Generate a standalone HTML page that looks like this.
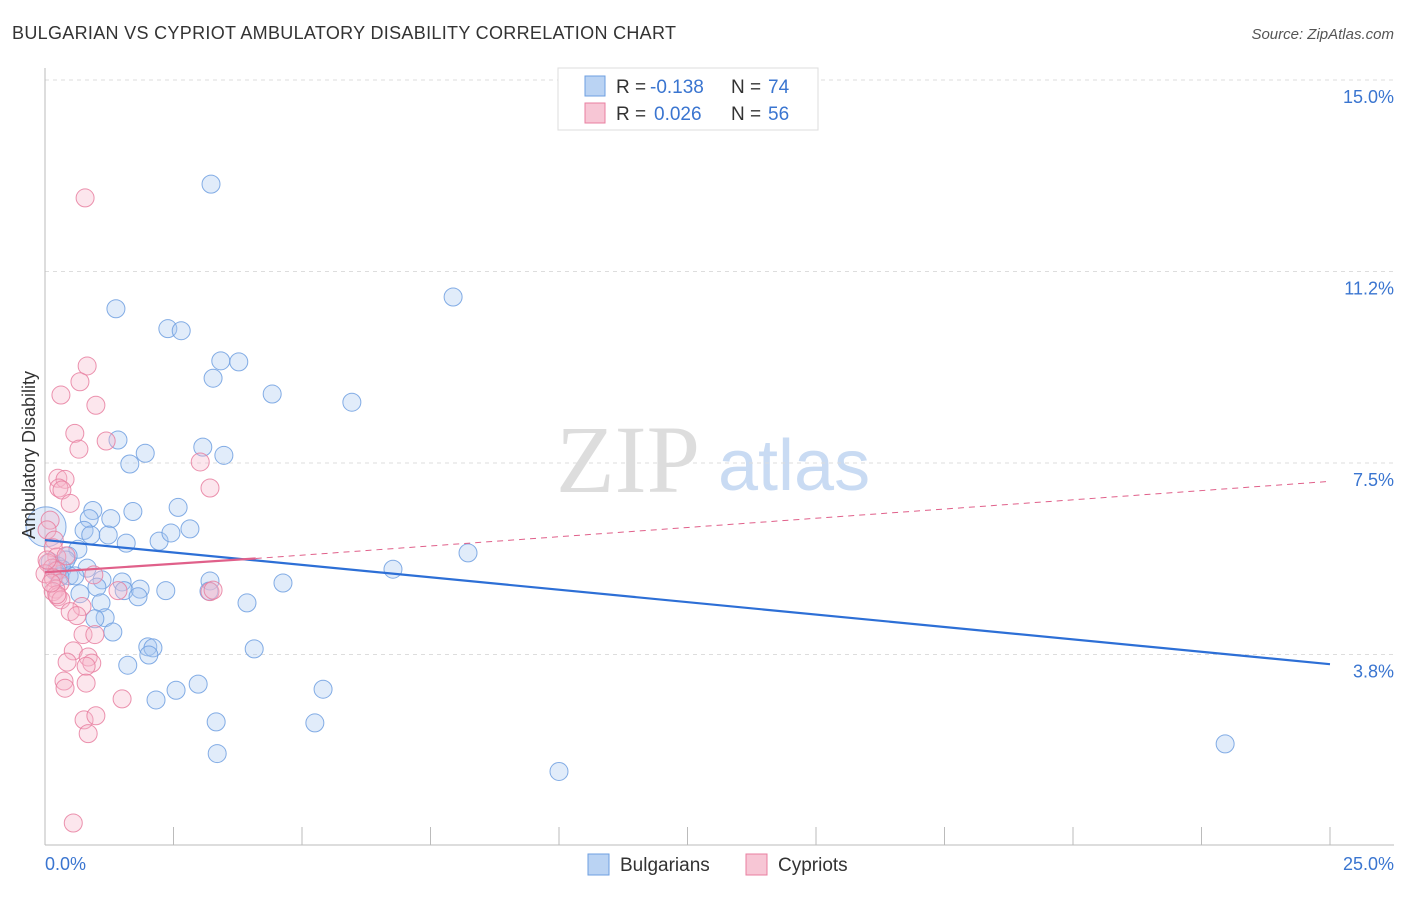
<!DOCTYPE html>
<html><head><meta charset="utf-8"><style>
body{margin:0;background:#fff;font-family:"Liberation Sans",sans-serif}
</style></head><body>
<svg id="chart" width="1406" height="892" xmlns="http://www.w3.org/2000/svg" style="font-family:'Liberation Sans',sans-serif">
<text x="12" y="39" font-size="18" fill="#333" textLength="664">BULGARIAN VS CYPRIOT AMBULATORY DISABILITY CORRELATION CHART</text>
<text x="1394" y="39" font-size="15" fill="#555" font-style="italic" text-anchor="end">Source: ZipAtlas.com</text>
<text x="556" y="492" font-size="96" fill="#ddd" font-family="'Liberation Serif',serif">ZIP</text>
<text x="718" y="490" font-size="72" fill="#c9dbf3">atlas</text>
<g id="grid"></g><g id="axes"></g><g id="pts"></g><g id="lines"></g>
<text transform="translate(35,455) rotate(-90)" font-size="18" fill="#333" text-anchor="middle">Ambulatory Disability</text>
<text x="45" y="870" font-size="18" fill="#3a75d0">0.0%</text>
<text x="1394" y="870" font-size="18" fill="#3a75d0" text-anchor="end">25.0%</text>
<g>
<rect x="558" y="68" width="260" height="62" fill="#fff" stroke="#ddd"/>
<rect x="585" y="76" width="20" height="20" fill="#a9c8f0" stroke="#6e9fe0" fill-opacity="0.8"/>
<rect x="585" y="103" width="20" height="20" fill="#f5b8cb" stroke="#e87fa0" fill-opacity="0.8"/>
<text x="616" y="93" font-size="19" fill="#333">R =</text>
<text x="650" y="93" font-size="19" fill="#3a75d0">-0.138</text>
<text x="731" y="93" font-size="19" fill="#333">N =</text>
<text x="768" y="93" font-size="19" fill="#3a75d0">74</text>
<text x="616" y="120" font-size="19" fill="#333">R =</text>
<text x="654" y="120" font-size="19" fill="#3a75d0">0.026</text>
<text x="731" y="120" font-size="19" fill="#333">N =</text>
<text x="768" y="120" font-size="19" fill="#3a75d0">56</text>
</g>
<g>
<rect x="588" y="854" width="21" height="21" fill="#a9c8f0" stroke="#6e9fe0" fill-opacity="0.8"/>
<text x="620" y="871" font-size="19" fill="#333">Bulgarians</text>
<rect x="746" y="854" width="21" height="21" fill="#f5b8cb" stroke="#e87fa0" fill-opacity="0.8"/>
<text x="778" y="871" font-size="19" fill="#333">Cypriots</text>
</g>
</svg>
<script>
const yTicks=[3.75,7.5,11.25,15];
const yTickLabels=["3.8%","7.5%","11.2%","15.0%"];
const blueX=[3.23,1.38,2.39,2.65,7.94,3.42,3.77,3.27,4.42,5.97,1.42,3.07,1.95,3.48,1.65,0.93,0.86,1.28,1.71,2.59,2.82,0.76,0.89,1.23,1.58,2.22,2.45,0.64,0.45,0.41,0.1,0.25,0.33,0.19,0.82,0.47,0.58,1.11,0.29,1.5,3.21,4.63,6.77,8.23,1.01,1.54,1.85,2.35,1.81,0.68,3.19,1.09,3.93,1.17,0.97,1.32,2.0,2.1,2.02,4.07,1.61,2.55,2.16,2.98,5.41,3.33,5.25,3.35,10.0,22.96,0.02];
const blueY=[12.96,10.52,10.13,10.09,10.75,9.5,9.48,9.16,8.85,8.69,7.95,7.81,7.69,7.65,7.48,6.57,6.41,6.41,6.55,6.63,6.21,6.18,6.09,6.09,5.93,5.97,6.13,5.81,5.68,5.6,5.56,5.48,5.42,5.39,5.44,5.29,5.29,5.21,5.27,5.17,5.19,5.15,5.42,5.74,5.07,5.0,5.03,5.0,4.88,4.94,4.99,4.76,4.76,4.47,4.45,4.19,3.9,3.88,3.74,3.86,3.54,3.05,2.86,3.17,3.07,2.43,2.41,1.81,1.46,2.0,6.25];
const pinkX=[0.78,0.82,0.68,0.31,0.99,0.58,0.66,1.19,3.02,0.25,0.39,0.27,0.33,3.21,0.49,0.1,0.04,0.18,0.16,0.23,0.41,0.06,0.14,0.23,0.0,0.16,0.95,0.29,0.21,0.16,1.42,3.21,3.27,0.25,0.31,0.72,0.49,0.62,0.74,0.97,0.55,0.84,0.43,0.91,0.8,0.37,0.39,0.8,1.5,0.76,0.99,0.84,0.55,0.23,0.12,0.04];
const pinkY=[12.69,9.4,9.09,8.83,8.63,8.08,7.77,7.93,7.52,7.2,7.18,7.01,6.97,7.01,6.71,6.38,6.19,5.99,5.84,5.66,5.68,5.54,5.44,5.39,5.33,5.25,5.31,5.15,5.03,4.98,5.0,4.98,5.01,4.88,4.82,4.69,4.59,4.51,4.14,4.14,3.82,3.7,3.6,3.58,3.52,3.23,3.09,3.19,2.88,2.47,2.55,2.2,0.45,4.92,5.15,5.6];
const blueTrend=[[0,5.99],[25,3.56]];
const pinkTrend=[[0,5.36],[4.1,5.63],[25,7.14]];
const X=v=>45+v/25*1285, Y=v=>846-v*51.07;
const NS="http://www.w3.org/2000/svg";
function mk(t,a,p){const e=document.createElementNS(NS,t);for(const k in a)e.setAttribute(k,a[k]);p.appendChild(e);return e;}
const grid=document.getElementById('grid'),axes=document.getElementById('axes'),pts=document.getElementById('pts'),lines=document.getElementById('lines');
yTicks.forEach((t,i)=>{
 const g=mk('line',{x1:45,x2:1394,y1:Y(t),y2:Y(t),stroke:'#ddd','stroke-dasharray':'4,4'},grid);
 
 
 const l=mk('text',{x:1394,y:Y(t)+23,'font-size':18,fill:'#3a75d0','text-anchor':'end'},axes);
 l.textContent=yTickLabels[i];
 
 
});
const xa=mk('line',{x1:45,x2:1394,y1:845,y2:845,stroke:'#bbb'},axes);


const ya=mk('line',{x1:45,x2:45,y1:68,y2:845,stroke:'#bbb'},axes);


for(let i=0;i<=10;i++){const t=mk('line',{x1:X(i*2.5),x2:X(i*2.5),y1:827,y2:845,stroke:'#bbb'},axes);
 
 }
function dots(xs,ys,fill,stroke,name){xs.forEach((x,i)=>{
 const r=(x===0.02&&name==='bulgarian-point')?20:9;
 const c=mk('circle',{cx:X(x),cy:Y(ys[i]),r:r,fill:fill,'fill-opacity':0.35,stroke:stroke,'stroke-width':1,'stroke-opacity':0.85},pts);
 
 });}
dots(blueX,blueY,'#a9c8f0','#6e9fe0','bulgarian-point');
dots(pinkX,pinkY,'#f5b8cb','#e87fa0','cypriot-point');
const bl=mk('line',{x1:X(blueTrend[0][0]),y1:Y(blueTrend[0][1]),x2:X(blueTrend[1][0]),y2:Y(blueTrend[1][1]),stroke:'#2d6fd6','stroke-width':2.2},lines);


const p1=mk('line',{x1:X(pinkTrend[0][0]),y1:Y(pinkTrend[0][1]),x2:X(pinkTrend[1][0]),y2:Y(pinkTrend[1][1]),stroke:'#e0608a','stroke-width':2.2},lines);


const p2=mk('line',{x1:X(pinkTrend[1][0]),y1:Y(pinkTrend[1][1]),x2:X(pinkTrend[2][0]),y2:Y(pinkTrend[2][1]),stroke:'#e0608a','stroke-width':1,'stroke-dasharray':'6,5'},lines);


</script>
</body></html>
